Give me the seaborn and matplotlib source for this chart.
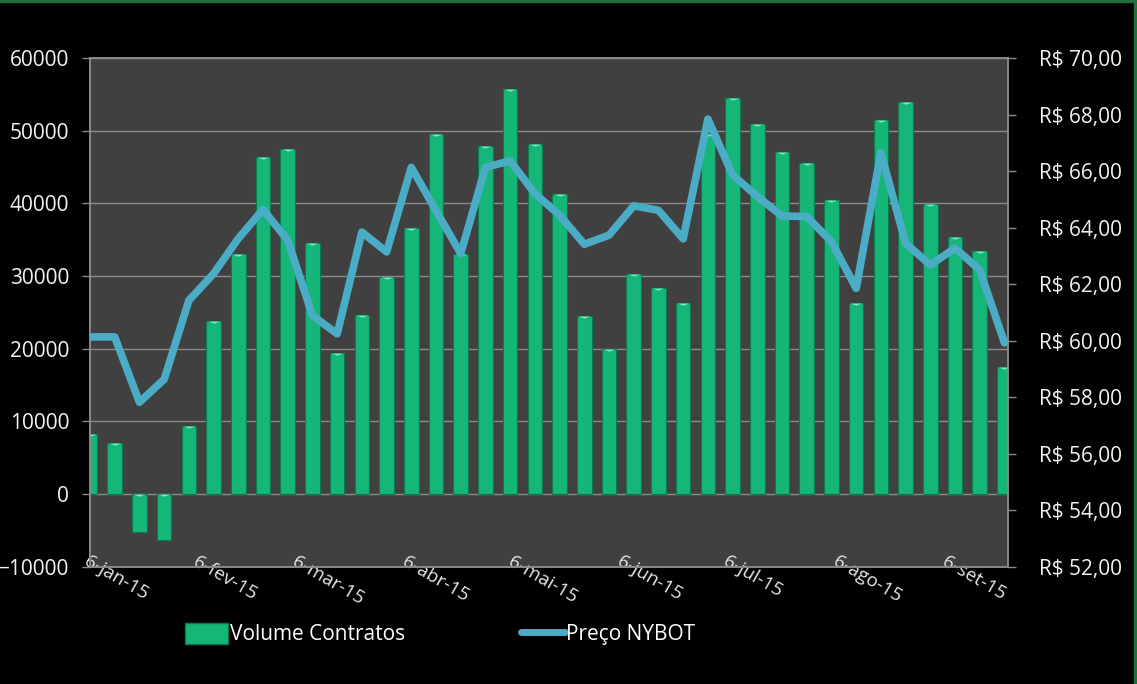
import numpy as np
import pandas as pd
import matplotlib
matplotlib.use("Agg")
import matplotlib.pyplot as plt
import seaborn as sns
from matplotlib.ticker import FuncFormatter
from matplotlib.patches import Patch
from matplotlib.lines import Line2D
from matplotlib.path import Path

# ---------------- data ----------------
volume = [8300, 7000, -5200, -6300, 9400, 23800, 33000, 46400, 47500, 34500,
          19400, 24700, 29800, 36600, 49600, 33000, 47900, 55800, 48200, 41300,
          24500, 20000, 30300, 28300, 26300, 49500, 54500, 50900, 47100, 45500,
          40400, 26300, 51500, 54000, 39900, 35400, 33400, 17500]
price = [60.13, 60.13, 57.82, 58.63, 61.42, 62.37, 63.61, 64.64, 63.55, 60.89,
         60.24, 63.84, 63.14, 66.13, 64.60, 63.08, 66.13, 66.36, 65.20, 64.44,
         63.41, 63.73, 64.77, 64.61, 63.60, 67.84, 65.86, 65.10, 64.41, 64.39,
         63.50, 61.85, 66.65, 63.44, 62.68, 63.27, 62.50, 59.92]
dates = pd.date_range("2015-01-06", periods=len(volume), freq="7D")
tick_dates = ["2015-01-06", "2015-02-06", "2015-03-06", "2015-04-06", "2015-05-06",
              "2015-06-06", "2015-07-06", "2015-08-06", "2015-09-06"]
tick_labels = ["6-jan-15", "6-fev-15", "6-mar-15", "6-abr-15", "6-mai-15",
               "6-jun-15", "6-jul-15", "6-ago-15", "6-set-15"]
left_ticks = [-10000, 0, 10000, 20000, 30000, 40000, 50000, 60000]
right_ticks = [52, 54, 56, 58, 60, 62, 64, 66, 68, 70]

# ---------------- style ----------------
plt.rcParams['font.family'] = ['Open Sans', 'DejaVu Sans']
BAR = '#16b578'
BAR_EDGE = '#0b7a4d'
CAP = '#72f0c6'
LINE = '#4bacc6'
GRID = '#8a8a8a'

x_days = np.asarray((dates - dates[0]).days, dtype=float)
tick_x = [(pd.Timestamp(d) - dates[0]).days for d in tick_dates]
df = pd.DataFrame({"x": x_days, "vol": volume, "price": price})
df["cap"] = np.maximum(df["vol"], 0)

fig = plt.figure(figsize=(11.37, 6.84), dpi=100, facecolor='black')
ax = fig.add_axes([90 / 1137, 1 - 566.7 / 684, (1008 - 90) / 1137, (566.7 - 58) / 684])
ax.set_facecolor('#404040')
ax.set_axisbelow(True)

sns.barplot(data=df, x="x", y="vol", native_scale=True, width=0.59,
            color=BAR, saturation=1, edgecolor=BAR_EDGE, linewidth=0.8,
            ax=ax, zorder=2)
cap_marker = Path([(-1, 0), (1, 0), (0, -0.38), (-1, 0)],
                  [Path.MOVETO, Path.LINETO, Path.LINETO, Path.CLOSEPOLY])
sns.scatterplot(data=df, x="x", y="cap", marker=cap_marker, s=70, color=CAP,
                linewidth=0, ax=ax, zorder=3, legend=False)

ax.set_ylim(-10000, 60000)
ax.set_yticks(left_ticks)
ax.yaxis.grid(True, color=GRID, linewidth=1.0)
ax.xaxis.grid(False)
for s in ax.spines.values():
    s.set_color(GRID)
    s.set_linewidth(1.2)
ax.tick_params(axis='y', colors=GRID, labelcolor='#f2f2f2', length=6, width=1,
               direction='out', pad=9, labelsize=15)
ax.set_xticks(tick_x)
ax.set_xticklabels(tick_labels, rotation=-30, ha='left', va='top',
                   rotation_mode='anchor')
ax.tick_params(axis='x', length=0, pad=-10, labelsize=13.5, labelcolor='#e6e6e6')
ax.set_xlabel('')
ax.set_ylabel('')

ax2 = ax.twinx()
sns.lineplot(data=df, x="x", y="price", color=LINE, linewidth=5.5, ax=ax2,
             solid_joinstyle='round', solid_capstyle='round', zorder=4)
ax2.set_ylim(52, 70)
ax2.set_yticks(right_ticks)
ax2.yaxis.set_major_formatter(FuncFormatter(lambda v, p: f"R$ {v:.2f}".replace(".", ",")))
ax2.tick_params(axis='y', colors=GRID, labelcolor='#f2f2f2', length=6, width=1,
                direction='out', pad=16, labelsize=15)
for s in ax2.spines.values():
    s.set_color(GRID)
    s.set_linewidth(1.2)
ax2.set_ylabel('')
ax2.set_xlabel('')
ax.set_xlim(0, 260)

handles = [Patch(facecolor=BAR, edgecolor=BAR_EDGE, label='Volume Contratos'),
           Line2D([], [], color=LINE, lw=5, solid_capstyle='round', label='Preço NYBOT')]
fig.legend(handles=handles, loc='center', bbox_to_anchor=(440 / 1137, 1 - 634 / 684),
           ncol=2, frameon=False, fontsize=15, labelcolor='white',
           handlelength=2.1, handleheight=1.2, handletextpad=0.05, columnspacing=5.6)

fig.add_artist(Line2D([0, 1], [0.998, 0.998], transform=fig.transFigure,
                      color='#1f6e3d', lw=2.5))
fig.add_artist(Line2D([0.9985, 0.9985], [0, 1], transform=fig.transFigure,
                      color='#1f6e3d', lw=2.5))

fig.savefig("out.png", dpi=100, facecolor='black')
